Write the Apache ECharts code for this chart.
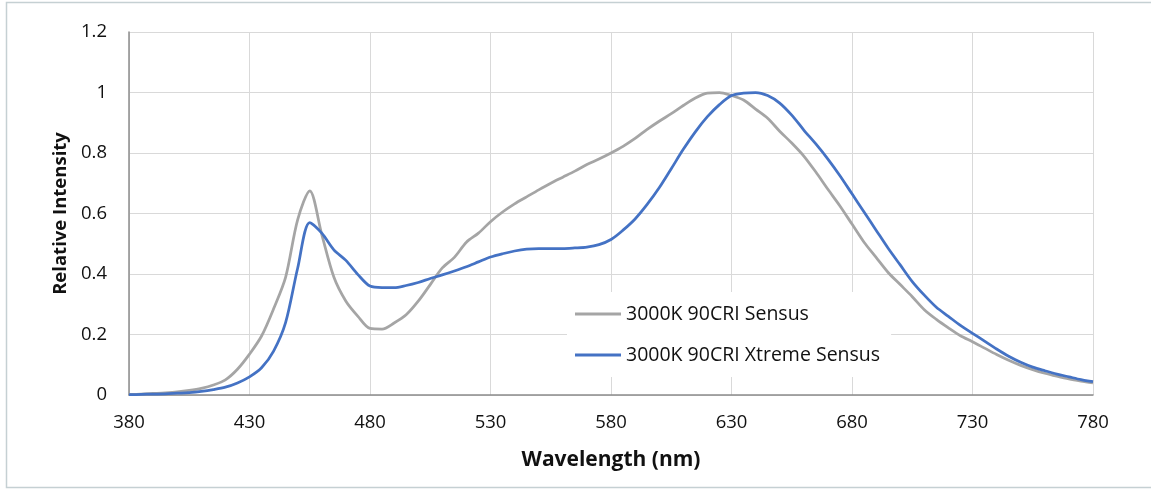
<!DOCTYPE html>
<html>
<head>
<meta charset="utf-8">
<script src="https://cdn.jsdelivr.net/npm/echarts@6/dist/echarts.min.js"></script>
<style>
html,body{margin:0;padding:0;background:#fff;}
#chart{width:1151px;height:491px;}
</style>
</head>
<body>
<div id="chart"></div>
<script>
var wavelengths = [380,385,390,395,400,405,410,415,420,425,430,435,440,445,450,455,460,465,470,475,480,485,490,495,500,505,510,515,520,525,530,535,540,545,550,555,560,565,570,575,580,585,590,595,600,605,610,615,620,625,630,635,640,645,650,655,660,665,670,675,680,685,690,695,700,705,710,715,720,725,730,735,740,745,750,755,760,765,770,775,780];

var sensus = [0.002,0.003,0.005,0.007,0.010,0.015,0.022,0.033,0.050,0.085,0.135,0.195,0.285,0.39,0.58,0.675,0.53,0.39,0.31,0.26,0.22,0.218,0.238,0.265,0.31,0.365,0.42,0.455,0.505,0.535,0.573,0.605,0.632,0.655,0.678,0.70,0.72,0.74,0.762,0.78,0.80,0.822,0.848,0.878,0.905,0.930,0.957,0.982,0.998,1.0,0.99,0.975,0.945,0.915,0.872,0.833,0.79,0.737,0.68,0.625,0.565,0.505,0.455,0.405,0.365,0.325,0.282,0.25,0.222,0.196,0.176,0.155,0.134,0.115,0.098,0.084,0.072,0.062,0.053,0.046,0.040];

var xtreme = [0.001,0.002,0.003,0.004,0.006,0.008,0.012,0.018,0.026,0.040,0.060,0.090,0.145,0.24,0.42,0.570,0.535,0.48,0.445,0.398,0.36,0.355,0.355,0.362,0.372,0.385,0.397,0.41,0.424,0.44,0.456,0.467,0.476,0.482,0.484,0.484,0.484,0.486,0.489,0.497,0.514,0.545,0.582,0.63,0.685,0.748,0.812,0.87,0.92,0.96,0.99,0.998,1.0,0.99,0.965,0.925,0.876,0.83,0.78,0.725,0.665,0.605,0.545,0.485,0.43,0.375,0.33,0.29,0.26,0.23,0.204,0.178,0.152,0.128,0.108,0.092,0.08,0.069,0.06,0.051,0.044];

var seriesNames = ['3000K 90CRI Sensus', '3000K 90CRI Xtreme Sensus'];
var xAxisTitle = 'Wavelength (nm)';
var yAxisTitle = 'Relative Intensity';

var FONT = '"Open Sans", "Noto Sans", sans-serif';
var chart = echarts.init(document.getElementById('chart'), null, {renderer: 'canvas'});
chart.setOption({
  animation: false,
  backgroundColor: '#ffffff',
  graphic: [{
    type: 'rect',
    shape: {x: 6.5, y: 2.5, width: 1160, height: 485},
    style: {fill: 'none', stroke: '#c5d0d3', lineWidth: 1.5},
    silent: true, z: -10
  }],
  grid: {left: 129, right: 58, top: 32, bottom: 96, containLabel: false},
  legend: {
    data: seriesNames,
    orient: 'vertical',
    left: 567, top: 292,
    padding: [11, 11, 11, 8],
    itemGap: 19,
    itemWidth: 46,
    itemHeight: 3,
    icon: 'rect',
    backgroundColor: '#ffffff',
    textStyle: {fontFamily: FONT, fontSize: 19.5, color: '#111', lineHeight: 22}
  },
  xAxis: {
    type: 'category',
    data: wavelengths,
    boundaryGap: false,
    axisLine: {show: true, lineStyle: {color: '#8c8c8c', width: 1.5}},
    axisTick: {show: false},
    axisLabel: {interval: 9, margin: 18, fontFamily: FONT, fontSize: 18.5, color: '#111'},
    splitLine: {show: true, interval: 9, lineStyle: {color: '#d9d9d9', width: 1}},
    name: xAxisTitle,
    nameLocation: 'middle',
    nameGap: 55,
    nameTextStyle: {fontFamily: FONT, fontSize: 21, fontWeight: 'bold', color: '#111'}
  },
  yAxis: {
    type: 'value',
    min: 0, max: 1.2, interval: 0.2,
    axisLine: {show: true, lineStyle: {color: '#8c8c8c', width: 1.5}},
    axisTick: {show: false},
    axisLabel: {margin: 22, fontFamily: FONT, fontSize: 18.5, color: '#111'},
    splitLine: {show: true, lineStyle: {color: '#d9d9d9', width: 1}},
    name: yAxisTitle,
    nameLocation: 'middle',
    nameGap: 58,
    nameTextStyle: {fontFamily: FONT, fontSize: 18.5, fontWeight: 'bold', color: '#111'}
  },
  series: [
    {name: seriesNames[0], type: 'line', data: sensus, symbol: 'none', smooth: 0.3,
     lineStyle: {color: '#a5a5a5', width: 2.75}, itemStyle: {color: '#a5a5a5'}, z: 2},
    {name: seriesNames[1], type: 'line', data: xtreme, symbol: 'none', smooth: 0.3,
     lineStyle: {color: '#4472c4', width: 2.75}, itemStyle: {color: '#4472c4'}, z: 3}
  ]
});
</script>
</body>
</html>
